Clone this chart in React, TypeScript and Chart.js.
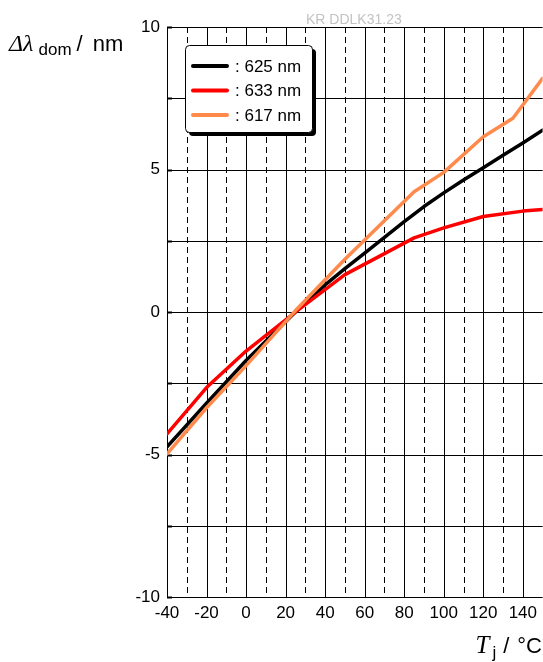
import React, { useEffect, useRef } from 'react';
import { Chart, registerables } from 'chart.js';

Chart.register(...registerables);

// Junction temperature (°C) and dominant wavelength shift (nm)
const temps625 = [-40, -20, 0, 25, 40, 50, 60, 70, 80, 90, 100, 110, 120, 130, 140, 150];
const shift625 = [-4.73, -3.2, -1.7, 0, 0.95, 1.52, 2.07, 2.62, 3.17, 3.7, 4.18, 4.63, 5.06, 5.5, 5.93, 6.38];

const temps633 = [-40, -20, 0, 25, 50, 85, 100, 120, 140, 150];
const shift633 = [-4.28, -2.65, -1.37, 0, 1.31, 2.6, 2.95, 3.35, 3.54, 3.6];

const temps617 = [-40, -20, 0, 25, 50, 85, 100, 120, 135, 150];
const shift617 = [-4.98, -3.36, -1.88, 0.05, 1.85, 4.22, 4.9, 6.15, 6.8, 8.2];

const seriesLabels = [': 625 nm', ': 633 nm', ': 617 nm'];
const seriesColors = ['#000000', '#ff0000', '#ff8a4c'];

const X_MIN = -40;
const X_MAX = 150;
const Y_MIN = -10;
const Y_MAX = 10;
const X_GRID_STEP = 10;
const Y_GRID_STEP = 2.5;

const FONT = '"Liberation Sans", Arial, Helvetica, sans-serif';
const SERIF = '"Liberation Serif", "Times New Roman", serif';

const gridPlugin = {
  id: 'customGrid',
  beforeDatasetsDraw(chart: any) {
    const { ctx, chartArea, scales } = chart;
    const xs = scales.x;
    const ys = scales.y;
    ctx.save();
    ctx.strokeStyle = '#000';
    ctx.lineWidth = 1;
    for (let v = Y_MIN; v <= Y_MAX + 1e-9; v += Y_GRID_STEP) {
      const py = Math.round(ys.getPixelForValue(v)) + 0.5;
      ctx.setLineDash([]);
      ctx.lineWidth = 1;
      ctx.beginPath();
      ctx.moveTo(chartArea.left, py);
      ctx.lineTo(chartArea.right, py);
      ctx.stroke();
      // small inward tick mark on the left axis
      ctx.lineWidth = 2;
      ctx.beginPath();
      ctx.moveTo(chartArea.left, py);
      ctx.lineTo(chartArea.left + 5, py);
      ctx.stroke();
    }
    ctx.lineWidth = 1;
    for (let v = X_MIN; v <= X_MAX + 1e-9; v += X_GRID_STEP) {
      const px = Math.round(xs.getPixelForValue(v)) + 0.5;
      ctx.setLineDash(Math.abs(v % 20) < 1e-9 ? [] : [6, 4]);
      ctx.beginPath();
      ctx.moveTo(px, chartArea.top);
      ctx.lineTo(px, chartArea.bottom);
      ctx.stroke();
    }
    ctx.restore();
  },
};

const legendPlugin = {
  id: 'insetLegend',
  afterDraw(chart: any) {
    const { ctx } = chart;
    const left = 185;
    const top = 45;
    const w = 127;
    const h = 87;
    const r = 4;
    ctx.save();
    const rr = (x: number, y: number) => {
      ctx.beginPath();
      ctx.moveTo(x + r, y);
      ctx.lineTo(x + w - r, y);
      ctx.quadraticCurveTo(x + w, y, x + w, y + r);
      ctx.lineTo(x + w, y + h - r);
      ctx.quadraticCurveTo(x + w, y + h, x + w - r, y + h);
      ctx.lineTo(x + r, y + h);
      ctx.quadraticCurveTo(x, y + h, x, y + h - r);
      ctx.lineTo(x, y + r);
      ctx.quadraticCurveTo(x, y, x + r, y);
      ctx.closePath();
    };
    rr(left + 4, top + 4);
    ctx.fillStyle = '#000';
    ctx.fill();
    rr(left + 0.5, top + 0.5);
    ctx.fillStyle = '#fff';
    ctx.fill();
    ctx.strokeStyle = '#000';
    ctx.lineWidth = 1;
    ctx.stroke();

    chart.data.datasets.forEach((ds: any, i: number) => {
      const y = top + 21 + i * 24.5;
      ctx.strokeStyle = ds.borderColor;
      ctx.lineWidth = 4;
      ctx.lineCap = 'round';
      ctx.beginPath();
      ctx.moveTo(193, y);
      ctx.lineTo(227, y);
      ctx.stroke();
      ctx.fillStyle = '#000';
      ctx.font = `17px ${FONT}`;
      ctx.textBaseline = 'middle';
      ctx.textAlign = 'left';
      ctx.fillText(ds.label, 235, y + 1);
    });
    ctx.restore();
  },
};

export default function App() {
  const canvasRef = useRef<HTMLCanvasElement | null>(null);

  useEffect(() => {
    if (!canvasRef.current) return;
    const mk = (t: number[], s: number[]) => t.map((x, i) => ({ x, y: s[i] }));
    const chart = new Chart(canvasRef.current, {
      type: 'line',
      data: {
        datasets: [
          { label: seriesLabels[0], data: mk(temps625, shift625), borderColor: seriesColors[0], order: 2 },
          { label: seriesLabels[1], data: mk(temps633, shift633), borderColor: seriesColors[1], order: 1 },
          { label: seriesLabels[2], data: mk(temps617, shift617), borderColor: seriesColors[2], order: 0 },
        ].map((d) => ({
          ...d,
          borderWidth: 3.5,
          pointRadius: 0,
          tension: 0,
          fill: false,
          borderCapStyle: 'round',
          borderJoinStyle: 'round',
        })) as any,
      },
      options: {
        animation: false,
        responsive: false,
        devicePixelRatio: 1,
        layout: { padding: { top: 27, left: 0, right: 0, bottom: 0 } },
        plugins: { legend: { display: false }, tooltip: { enabled: false } },
        scales: {
          x: {
            type: 'linear',
            min: X_MIN,
            max: X_MAX,
            grid: { display: false, drawTicks: false },
            border: { display: false },
            ticks: {
              stepSize: 20,
              includeBounds: false,
              autoSkip: false,
              maxRotation: 0,
              padding: 6,
              color: '#000',
              font: { family: FONT, size: 17 },
            },
            afterFit: (s: any) => {
              s.height = 65;
            },
          },
          y: {
            type: 'linear',
            min: Y_MIN,
            max: Y_MAX,
            grid: { display: false, drawTicks: false },
            border: { display: false },
            ticks: {
              stepSize: 5,
              padding: 7,
              color: '#000',
              font: { family: FONT, size: 17 },
            },
            afterFit: (s: any) => {
              s.width = 167;
            },
          },
        },
      } as any,
      plugins: [gridPlugin, legendPlugin],
    });
    return () => chart.destroy();
  }, []);

  return (
    <div style={{ position: 'absolute', left: 0, top: 0, width: 543, height: 662, background: '#fff', overflow: 'hidden' }}>
      <canvas ref={canvasRef} width={543} height={662} style={{ position: 'absolute', left: 0, top: 0, width: 543, height: 662 }} />
      <div
        style={{
          position: 'absolute',
          left: 306,
          top: 12,
          fontFamily: FONT,
          fontSize: 14,
          lineHeight: '14px',
          color: '#c3c3c3',
          whiteSpace: 'nowrap',
        }}
      >
        KR DDLK31.23
      </div>
      <div
        style={{
          position: 'absolute',
          left: 9,
          top: 32,
          fontFamily: FONT,
          fontSize: 22,
          lineHeight: '22px',
          color: '#000',
          whiteSpace: 'nowrap',
        }}
      >
        <span style={{ fontFamily: SERIF, fontStyle: 'italic', fontSize: 24 }}>Δλ</span>
        <span style={{ fontSize: 17, position: 'relative', top: 4, marginLeft: 5 }}>dom</span>
        <span style={{ marginLeft: 5 }}>/</span>
        <span style={{ marginLeft: 10 }}>nm</span>
      </div>
      <div
        style={{
          position: 'absolute',
          right: 1,
          top: 634,
          fontFamily: FONT,
          fontSize: 22,
          lineHeight: '22px',
          color: '#000',
          whiteSpace: 'nowrap',
        }}
      >
        <span style={{ fontFamily: SERIF, fontStyle: 'italic', fontSize: 25 }}>T</span>
        <span style={{ fontSize: 17, position: 'relative', top: 5, marginLeft: 3 }}>j</span>
        <span style={{ marginLeft: 7 }}>/</span>
        <span style={{ marginLeft: 8 }}>°C</span>
      </div>
    </div>
  );
}
